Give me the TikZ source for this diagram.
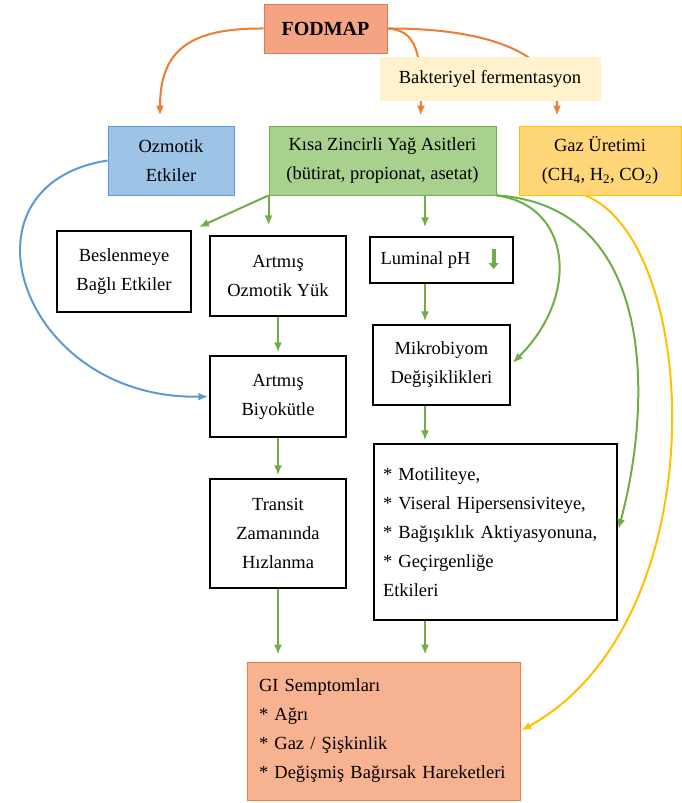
\documentclass[tikz,border=0pt]{standalone}
\usepackage{fontspec}
\setmainfont{Liberation Serif}
\usetikzlibrary{arrows.meta,calc}
\definecolor{fodfill}{RGB}{244,164,130}
\definecolor{fodline}{RGB}{228,120,80}
\definecolor{gifill}{RGB}{246,178,145}
\definecolor{giline}{RGB}{237,125,49}
\definecolor{ozfill}{RGB}{157,195,230}
\definecolor{ozline}{RGB}{91,155,213}
\definecolor{kzfill}{RGB}{169,209,142}
\definecolor{kzline}{RGB}{112,173,71}
\definecolor{gazfill}{RGB}{255,214,120}
\definecolor{gazline}{RGB}{255,192,0}
\definecolor{baktfill}{RGB}{255,242,204}
\definecolor{arrorange}{RGB}{237,125,49}
\definecolor{arrgreen}{RGB}{112,173,71}
\definecolor{arrblue}{RGB}{91,155,213}
\definecolor{arryellow}{RGB}{255,192,0}

\begin{document}
\begin{tikzpicture}[x=1pt,y=-1pt,
  every node/.style={font=\fontsize{18.5}{29}\selectfont},
  box/.style={draw,line width=1.3pt,align=center,inner sep=0pt},
  cbox/.style={draw,line width=0.8pt,align=center,inner sep=0pt},
  arr/.style={line width=2pt,-{Latex[length=10pt,width=8pt]}},
  orarr/.style={arr,arrorange,shorten >=10pt},
  grarr/.style={arr,arrgreen,shorten >=3pt},
]
\useasboundingbox (0,0) rectangle (682,803);
\coordinate (colb) at (425,0); %right column of arrows

% top row
\node[cbox,draw=fodline,fill=fodfill,minimum width=123,minimum height=49,font=\fontsize{20}{24}\selectfont\bfseries] (fodmap) at (325.5,28.5) {FODMAP};
\node[cbox,draw=ozline,fill=ozfill,minimum width=126,minimum height=69] (ozm) at (171,160.5) {Ozmotik\\Etkiler};
\node[cbox,draw=kzline,fill=kzfill,minimum width=227,minimum height=69] (kzya) at (382.5,160.5) {Kısa Zincirli Yağ Asitleri\\(bütirat, propionat, asetat)};
\node[cbox,draw=gazline,fill=gazfill,minimum width=162,minimum height=69] (gaz) at (600,160.5) {Gaz Üretimi\\(CH\textsubscript{4}, H\textsubscript{2}, CO\textsubscript{2})};

\draw[orarr] (fodmap.west) .. controls (190,28) and (160,50) .. ($(ozm.north)+(-11,0)$);
\draw[orarr] (fodmap.east) .. controls (415,30) and (422,50) .. ($(kzya.north)+(38,0)$);
\draw[orarr] (fodmap.east) .. controls (480,28) and (557,50) .. ($(gaz.north)+(-43,0)$);
\node[fill=baktfill,inner sep=0pt,minimum width=221,minimum height=44] (bakt) at (490,79) {Bakteriyel fermentasyon};

% middle boxes
\node[box,minimum width=134,minimum height=81] (besl) at (124,271.5) {Beslenmeye\\Bağlı Etkiler};
\node[box,minimum width=136,minimum height=80] (aoy) at (278,276) {Artmış\\Ozmotik Yük};
\node[box,minimum width=143,minimum height=46] (lum) at (441.5,260) {\makebox[122pt][l]{Luminal pH}};
\node[box,minimum width=137,minimum height=80] (mikro) at (441.5,365) {Mikrobiyom\\Değişiklikleri};
\node[box,minimum width=136,minimum height=81] (bio) at (278,396.5) {Artmış\\Biyokütle};
\node[box,minimum width=136,minimum height=109] (trans) at (278,533.5) {Transit\\Zamanında\\Hızlanma};
\node[box,minimum width=243,minimum height=176,text width=225,inner xsep=9,align=left] (mot) at (495.5,532) {{*} Motiliteye,\\{*} Viseral Hipersensiviteye,\\{*} Bağışıklık Aktiyasyonuna,\\{*} Geçirgenliğe\\Etkileri};
\node[cbox,draw=giline,fill=gifill,minimum width=273,minimum height=138,text width=249,inner xsep=12,align=left] (gi) at (383.5,731) {GI Semptomları\\{*} Ağrı\\{*} Gaz / Şişkinlik\\{*} Değişmiş Bağırsak Hareketleri};

\draw[arrgreen,line width=4pt,-{Triangle[length=6pt,width=10pt]}] ($(lum.east)+(-20,-11)$) -- ++(0,20); %pH down

% green arrows
\draw[grarr,shorten >=8pt] (kzya.south west) -- (besl.north east);
\draw[grarr,shorten >=10pt] (kzya.south west) -- (kzya.south west |- aoy.north);
\draw[grarr,shorten >=9pt] (kzya.south -| colb) -- (lum.north -| colb);
\draw[grarr] (kzya.south east) .. controls +(75,10) and +(70,-70) .. (mikro.east);
\draw[grarr] (kzya.south east) .. controls +(160,10) and +(35,-130) .. (mot.east);
\draw[grarr] (lum.south -| colb) -- (mikro.north -| colb);
\draw[grarr] (mikro.south -| colb) -- (mot.north -| colb);
\draw[grarr,shorten >=7pt] (mot.south -| colb) -- (gi.north -| colb);
\draw[grarr] (aoy.south) -- (bio.north);
\draw[grarr] (bio.south) -- (trans.north);
\draw[grarr,shorten >=7pt] (trans.south) -- (trans.south |- gi.north);

% side curves
\draw[arr,arrblue,shorten >=1pt] (ozm.west) .. controls (-50,185) and (20,400) .. (bio.west);
\draw[arr,arryellow,shorten >=1pt] ($(gaz.south)+(-15,0)$) .. controls (700,240) and (720,620) .. (gi.east);
\end{tikzpicture}
\end{document}
